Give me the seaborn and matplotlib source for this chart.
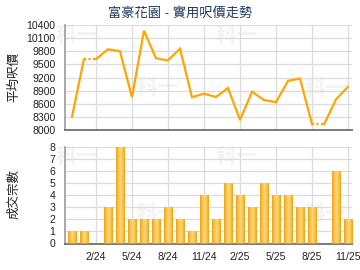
import numpy as np
import pandas as pd
import matplotlib
matplotlib.use("Agg")
import matplotlib.pyplot as plt
from matplotlib.colors import LinearSegmentedColormap
import seaborn as sns

# ---- data ----
months = ["12/23", "1/24", "2/24", "3/24", "4/24", "5/24", "6/24", "7/24", "8/24",
          "9/24", "10/24", "11/24", "12/24", "1/25", "2/25", "3/25", "4/25", "5/25",
          "6/25", "7/25", "8/25", "9/25", "10/25", "11/25"]
prices = [8300, 9620, 9620, 9845, 9800, 8750, 10270, 9640, 9590, 9860, 8750, 8830,
          8755, 8960, 8230, 8875, 8685, 8635, 9125, 9175, 8130, 8130, 8700, 8990]
counts = [1, 1, 0, 3, 8, 2, 2, 2, 3, 2, 1, 4, 2, 5, 4, 3, 5, 4, 4, 3, 3, 0, 6, 2]
tick_labels = ["2/24", "5/24", "8/24", "11/24", "2/25", "5/25", "8/25", "11/25"]
title = "富豪花園 - 實用呎價走勢"
ylabel_top = "平均呎價"
ylabel_bottom = "成交宗數"

sns.set_style("white")
plt.rcParams["font.family"] = ["Liberation Sans", "Noto Sans CJK TC", "DejaVu Sans"]

idx = np.arange(len(months))
df = pd.DataFrame({"i": idx, "month": months, "price": prices, "count": counts})

W, H = 360, 270
fig = plt.figure(figsize=(3.6, 2.7), dpi=100)
fig.patch.set_facecolor("white")

def fx(px):
    return px / W

def fy(py):
    return 1 - py / H

ax1 = fig.add_axes([fx(65), fy(130), 287 / W, 105 / H])
ax2 = fig.add_axes([fx(65), fy(244), 287 / W, 97 / H])
ax1.set_zorder(2)
ax2.set_zorder(2)

# faint watermarks behind the plots
for (x, y) in [(76, 36), (236, 36), (157, 88), (325, 89),
               (76, 157), (236, 157), (157, 214), (325, 214)]:
    fig.text(fx(x), fy(y), "科一", fontsize=15, fontweight="bold", color="#f3f3f3",
             ha="center", va="center", zorder=-5)

line_color = "#FFA500"
grid_color = "#DCDCDC"
tick_pos = [months.index(t) for t in tick_labels]

# ---- top: price line ----
seg_start = 0
for k in range(1, len(idx)):
    if counts[k] == 0:
        if k - 1 > seg_start:
            sub = df.iloc[seg_start:k]
            sns.lineplot(data=sub, x="i", y="price", ax=ax1, color=line_color, lw=1.6,
                         solid_joinstyle="miter", zorder=3)
        sub = df.iloc[k - 1:k + 1]
        sns.lineplot(data=sub, x="i", y="price", ax=ax1, color=line_color, lw=1.6,
                     linestyle=(0, (1, 1)), zorder=3)
        seg_start = k
if len(idx) - 1 > seg_start:
    sub = df.iloc[seg_start:]
    sns.lineplot(data=sub, x="i", y="price", ax=ax1, color=line_color, lw=1.6,
                 solid_joinstyle="miter", zorder=3)

ax1.set_ylim(8000, 10400)
ax1.set_yticks(np.arange(8000, 10401, 300))
ax1.set_xlim(-0.58, 23.33)
ax1.set_xticks(tick_pos)
ax1.set_xticklabels([])
ax1.set_xlabel("")
ax1.set_ylabel("")

# ---- bottom: counts bars ----
sns.barplot(data=df, x="i", y="count", ax=ax2, native_scale=True, width=0.72,
            color="#F7B733", edgecolor="#E39A0A", linewidth=0.6, zorder=3)
cmap = LinearSegmentedColormap.from_list(
    "bar", ["#EE9F12", "#FBC24A", "#FFD77A", "#FCC548", "#EFA317"])
grad = np.linspace(0, 1, 64).reshape(1, -1)
for p in list(ax2.patches):
    h = p.get_height()
    if h <= 0:
        p.set_visible(False)
        continue
    x0 = p.get_x()
    w = p.get_width()
    im = ax2.imshow(grad, cmap=cmap, aspect="auto", extent=[x0, x0 + w, 0, h],
                    zorder=3.5, interpolation="bilinear")
    im.set_clip_path(p)

ax2.set_xlim(-0.58, 23.33)
ax2.set_ylim(-0.08, 8)
ax2.set_yticks(range(0, 9))
ax2.set_xticks(tick_pos)
ax2.set_xticklabels(tick_labels)
ax2.set_xlabel("")
ax2.set_ylabel("")

for ax in (ax1, ax2):
    ax.patch.set_alpha(0)
    ax.grid(True, color=grid_color, lw=0.9, zorder=0)
    ax.set_axisbelow(True)
    for s in ("top", "right"):
        ax.spines[s].set_visible(False)
    ax.spines["left"].set_color("#9a9a9a")
    ax.spines["left"].set_linewidth(1.2)
    ax.spines["bottom"].set_color("#7a7a7a")
    ax.spines["bottom"].set_linewidth(1.4)
    ax.tick_params(axis="y", length=0, pad=7, labelsize=7.6, labelcolor="#222222")
    ax.tick_params(axis="x", length=3, width=0.8, color="#7a7a7a", pad=3,
                   labelsize=7.6, labelcolor="#222222")
ax1.tick_params(axis="x", length=0)

fig.text(fx(180), fy(13), title, ha="center", va="center", fontsize=9.5,
         color="#1F3A5F")
fig.text(fx(14), fy(77), ylabel_top, ha="center", va="center", rotation=90,
         fontsize=9, color="#222222")
fig.text(fx(14), fy(194), ylabel_bottom, ha="center", va="center", rotation=90,
         fontsize=9, color="#222222")

fig.savefig("out.png", dpi=100, facecolor="white")
